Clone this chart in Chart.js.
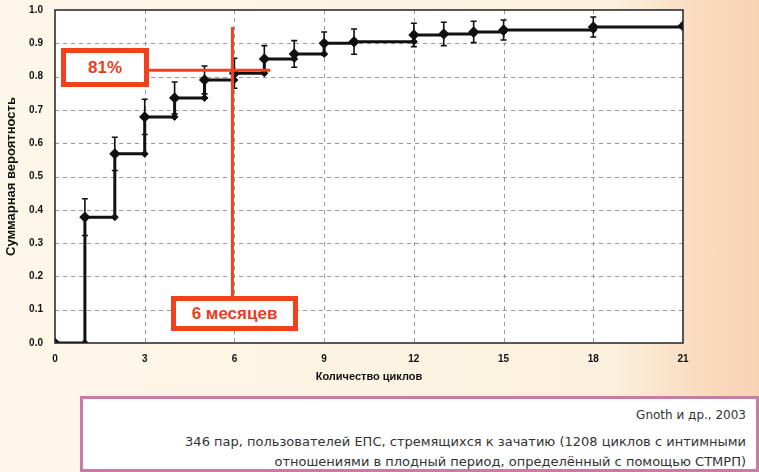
<!DOCTYPE html>
<html><head><meta charset="utf-8">
<script src="https://cdn.jsdelivr.net/npm/chart.js@4/dist/chart.umd.min.js"></script>
<style>
html,body{margin:0;padding:0;}
body{width:759px;height:472px;position:relative;overflow:hidden;background:linear-gradient(90deg,#fdf7ea 0%,#fcf1de 80%,#f9dcc0 92%,#f7d2b2 100%);font-family:"Liberation Sans",Arial,sans-serif;}
#wrap{position:absolute;left:0;top:0;width:759px;height:472px;}
.note{position:absolute;left:80px;top:396px;width:673px;height:70px;border:3px solid #c87ca4;background:#fff;box-sizing:content-box;font-family:"DejaVu Sans",sans-serif;font-size:13px;color:#333;text-align:right;}
.note div{padding-right:10px;}
.rbox{position:absolute;border:5px solid #f2401c;background:#fff;color:#e8401c;font-weight:bold;font-size:17px;display:flex;align-items:center;justify-content:center;box-sizing:border-box;}
</style></head><body>
<div id="wrap"><canvas id="c" width="759" height="472"></canvas></div>
<div class="note">
<div style="margin-top:9px;font-size:12px;">Gnoth и др., 2003</div>
<div style="margin-top:10px;line-height:20px;">346 пар, пользователей ЕПС, стремящихся к зачатию (1208 циклов с интимными<br>отношениями в плодный период, определённый с помощью СТМРП)</div>
</div>
<div class="rbox" style="left:61px;top:48px;width:88px;height:39px;">81%</div>
<div class="rbox" style="left:171px;top:296px;width:127px;height:35px;">6 месяцев</div>
<script>
const cycles = [0,1,2,3,4,5,6,7,8,9,10,12,13,14,15,18,21];
const probability = [0,0.378,0.568,0.679,0.736,0.79,0.81,0.853,0.868,0.9,0.905,0.925,0.928,0.934,0.94,0.949,0.952];
const errHalf = [0,0.055,0.05,0.053,0.048,0.042,0.045,0.04,0.04,0.034,0.038,0.035,0.035,0.032,0.03,0.03,0];
const xTicks = [0,3,6,9,12,15,18,21];
const markLine = {cycle:6, prob:0.81};

const mainPts = cycles.map((c,i)=>({x:c,y:probability[i]}));
const lowPts = cycles.slice(1,-1).map((c,i)=>({x:c,y:probability[i]}));

const extras = {
  id:'extras',
  beforeDatasetsDraw(ch){
    const {ctx,chartArea:a,scales:{x,y}}=ch;
    ctx.save();
    ctx.fillStyle='#fff';ctx.fillRect(a.left,a.top,a.right-a.left,a.bottom-a.top);
    ctx.setLineDash([4,4]);ctx.strokeStyle='#999';ctx.lineWidth=1;
    for(let v=0.1;v<0.95;v+=0.1){const py=Math.round(y.getPixelForValue(v))+0.5;ctx.beginPath();ctx.moveTo(a.left,py);ctx.lineTo(a.right,py);ctx.stroke();}
    xTicks.slice(1,-1).forEach(v=>{const px=Math.round(x.getPixelForValue(v))+0.5;ctx.beginPath();ctx.moveTo(px,a.top);ctx.lineTo(px,a.bottom);ctx.stroke();});
    ctx.setLineDash([]);
    ctx.strokeStyle='#111';ctx.lineWidth=1.6;
    cycles.forEach((c,i)=>{ if(!errHalf[i])return;
      const px=x.getPixelForValue(c),t=y.getPixelForValue(probability[i]+errHalf[i]),b=y.getPixelForValue(probability[i]-errHalf[i]);
      ctx.beginPath();ctx.moveTo(px,t);ctx.lineTo(px,b);ctx.moveTo(px-3,t);ctx.lineTo(px+3,t);ctx.moveTo(px-3,b);ctx.lineTo(px+3,b);ctx.stroke();});
    ctx.restore();
  },
  afterDatasetsDraw(ch){
    const {ctx,chartArea:a,scales:{x,y}}=ch;
    ctx.save();
    ctx.strokeStyle='#222';ctx.lineWidth=1.5;ctx.strokeRect(a.left,a.top,a.right-a.left,a.bottom-a.top);
    ctx.strokeStyle='#f2401c';ctx.lineWidth=3;
    const px=x.getPixelForValue(markLine.cycle)-2, py=y.getPixelForValue(markLine.prob)-3;
    ctx.beginPath();ctx.moveTo(px,27);ctx.lineTo(px,300);ctx.stroke();
    ctx.beginPath();ctx.moveTo(148,py);ctx.lineTo(x.getPixelForValue(7.2),py);ctx.stroke();
    ctx.restore();
  }
};

new Chart(document.getElementById('c'),{
  type:'scatter',
  data:{datasets:[
    {data:mainPts,showLine:true,stepped:'before',borderColor:'#111',borderWidth:3,pointStyle:'rectRot',pointRadius:3.5,pointBackgroundColor:'#111',pointBorderColor:'#111'},
    {data:lowPts,showLine:false,pointStyle:'rectRot',pointRadius:3.5,pointBackgroundColor:'#111',pointBorderColor:'#111'}
  ]},
  options:{responsive:false,animation:false,
    layout:{padding:{left:0,right:76,top:10,bottom:84}},
    plugins:{legend:{display:false},tooltip:{enabled:false}},
    scales:{
      x:{type:'linear',min:0,max:21,afterBuildTicks(s){s.ticks=xTicks.map(v=>({value:v}));},
        afterFit(s){s.height=45;},grid:{display:false},border:{display:false},
        ticks:{color:'#111',font:{size:10,weight:'bold',family:'Liberation Sans'},padding:2,maxRotation:0},
        title:{display:true,text:'Количество циклов',color:'#111',font:{size:11,weight:'bold',family:'Liberation Sans'},padding:{top:6}}},
      y:{min:0,max:1,ticks:{stepSize:0.1,color:'#111',font:{size:10,weight:'bold',family:'Liberation Sans'},callback:v=>v.toFixed(1),padding:4},
        afterFit(s){s.width=55;},grid:{display:false},border:{display:false},
        title:{display:true,text:'Суммарная вероятность',color:'#111',font:{size:13,weight:'bold',family:'Liberation Sans'},padding:{bottom:2}}}
    }},
  plugins:[extras]
});
</script></body></html>
